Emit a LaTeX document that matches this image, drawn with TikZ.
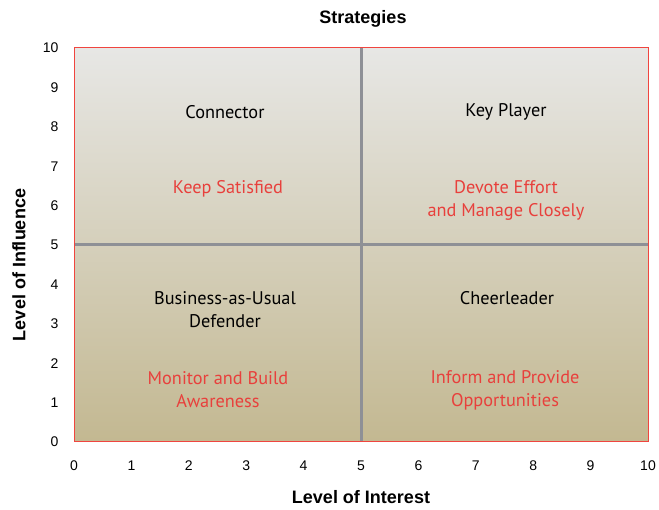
\documentclass[tikz,border=0pt]{standalone}
\usepackage{fontspec}
\setmainfont{Liberation Sans}
\newfontfamily\quadfont{PT Sans}
\begin{document}
\begin{tikzpicture}[x=1pt,y=1pt,
  quadlbl/.style={font=\quadfont\fontsize{18.3}{23}\selectfont, align=center, text=black},
  stratlbl/.style={font=\quadfont\fontsize{18.3}{23}\selectfont, align=center, text=redtxt},
  ticklbl/.style={font=\fontsize{14}{16}\selectfont},
  axislbl/.style={font=\bfseries\fontsize{18}{20}\selectfont}]
\definecolor{topc}{HTML}{E7E7E5}
\definecolor{botc}{HTML}{C3B891}
\definecolor{redtxt}{HTML}{E8403C}
\definecolor{gridc}{HTML}{8E9096}
\definecolor{borderc}{HTML}{F0453F}
\useasboundingbox (0,0) rectangle (659,510);
\fill[white] (0,0) rectangle (659,510);
% plot area: px x 74..648, y 48..442 -> tikz y = 510 - ypx
\coordinate (ll) at (74,68);
\coordinate (ur) at (648,462);
\shade[top color=topc, bottom color=botc] (ll) rectangle (ur);
\draw[gridc, line width=3] (361,68) -- (361,462);
\draw[gridc, line width=3] (74,265) -- (648,265);
\draw[borderc, line width=1] (ll) rectangle (ur);
% tick labels
\foreach \i in {0,...,10} {
  \node[ticklbl, anchor=base] (xt\i) at ({74+57.4*\i}, 39) {\i};
  \node[ticklbl, anchor=east] (yt\i) at (62, {68+39.4*\i}) {\i};
}
\node[axislbl] (title) at (363,491) {Strategies};
\node[axislbl] (xlab) at (361,13) {Level of Interest};
\node[axislbl, rotate=90] (ylab) at (19,245) {Level of Influence};
% quadrant labels
\node[quadlbl] (connector) at (225,398) {Connector};
\node[stratlbl] (keepsat) at (228,321) {Keep Satisfied};
\node[quadlbl] (keyplayer) at (506,398) {Key Player};
\node[stratlbl] (devote) at (506,310) {Devote Effort\\and Manage Closely};
\node[quadlbl] (bau) at (225,200) {Business-as-Usual\\Defender};
\node[stratlbl] (monitor) at (218,120) {Monitor and Build\\Awareness};
\node[quadlbl] (cheer) at (507,212) {Cheerleader};
\node[stratlbl] (inform) at (505,120) {Inform and Provide\\Opportunities};
\end{tikzpicture}
\end{document}
